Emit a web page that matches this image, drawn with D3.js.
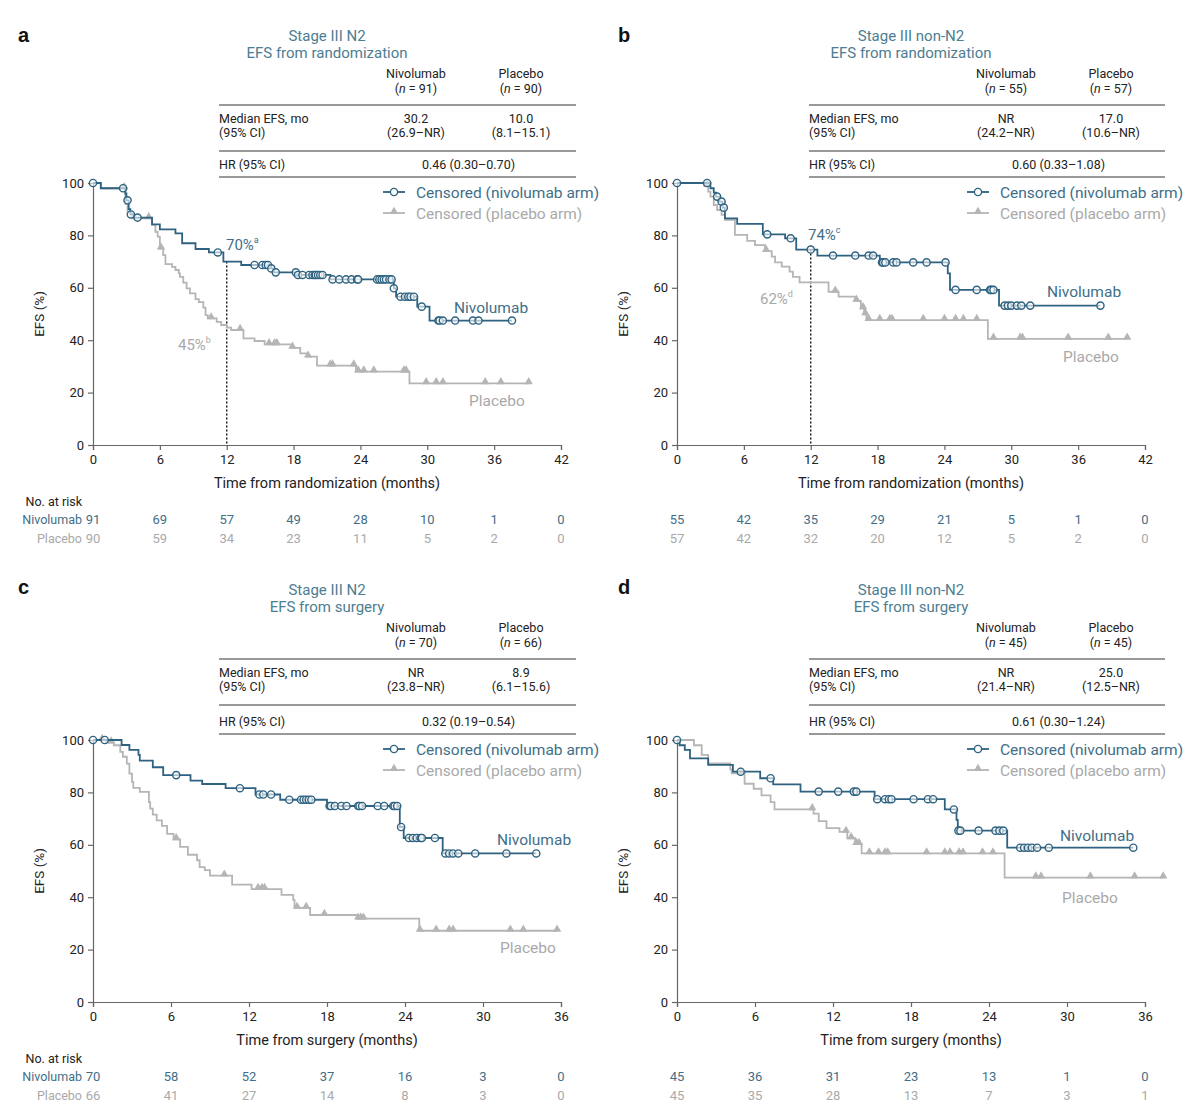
<!DOCTYPE html>
<html>
<head>
<meta charset="utf-8">
<script src="https://cdn.jsdelivr.net/npm/d3@7"></script>
<style>
    body { margin: 0; background: #fff; }
    svg { font-family: Roboto, "Open Sans", sans-serif; }
    .axis path, .axis line { stroke: #666; stroke-width: 1.2; }
    .axis text { font-size: 13px; fill: #222; font-family: Roboto, sans-serif; }
    .tableText { font-size: 12.5px; fill: #222; }
    .tableLine { stroke: #777; stroke-width: 1.3; }
    .title { font-size: 15px; fill: #4d7d90; text-anchor: middle; }
    .axisTitle { font-size: 14.5px; fill: #222; text-anchor: middle; }
    .legendText { font-size: 15.5px; }
    .riskText { font-size: 13px; text-anchor: middle; }
    .panelLetter { font-family: "Liberation Sans", Arial, sans-serif; font-weight: bold; font-size: 20px; fill: #111; }
</style>
</head>
<body>
<script>
//colours of the two arms
var nivoColor = "#2e6280",
    nivoTextColor = "#3f6f88",
    placeboColor = "#b5b5b5",
    placeboTextColor = "#a9a9a9";

//---------------- panel a : stage III N2, EFS from randomization ----------------
var aNivoSteps = [[0,100],[0.7,98],[2.9,96],[3.0,93.4],[3.2,90],[3.35,88],[3.7,86.8],[5.3,84.2],[6.0,82.3],
    [7.4,80.8],[8.0,77],[9.2,74.8],[10.4,73.5],[11.7,70],[13.3,68.7],[15.9,67.4],[16.2,65.9],[18.3,64.9],
    [21.3,63.2],[27.0,59.8],[27.2,56.6],[29.1,52.8],[30.2,47.5]];
var aNivoCensor = [0,2.7,3.1,3.4,4.0,11.2,14.5,15.2,15.5,15.7,16.0,16.4,18.2,18.4,18.8,19.4,19.7,19.9,20.0,
    20.2,20.4,20.6,21.5,22.1,22.7,23.2,23.7,23.8,25.5,25.7,25.9,26.1,26.3,26.6,26.8,27.0,27.6,28.0,28.3,28.5,
    28.8,29.5,31.0,31.1,31.4,32.5,34.1,34.6,37.6];
var aPlaceboSteps = [[0,100],[0.7,98],[2.9,92],[3.1,89],[3.5,86.5],[5.3,84],[5.6,81.4],[5.8,79.5],[6.0,75],
    [6.3,72.5],[6.5,69],[7.1,68],[7.4,66.8],[7.7,65.5],[7.8,64.2],[8.1,62],[8.4,59.8],[8.7,57.9],[9.2,55.7],
    [9.5,54.5],[9.9,52.4],[10.1,49.6],[10.3,48.3],[11.1,47],[11.5,45.8],[12.0,44.8],[12.4,43.9],[13.5,40.7],
    [14.5,39.7],[15.4,38.4],[17.8,37.1],[18.6,35],[19.2,33.7],[20.1,30.3],[23.6,28],[28.4,23.5]];
var aPlaceboCensor = [2.8,5.0,6.1,10.6,13.2,15.8,16.3,16.5,17.9,19.3,21.3,21.5,23.4,23.8,24.3,25.2,27.9,28.1,
    29.9,30.8,31.4,35.2,36.6,39.1];
var aNivoRisk = [91,69,57,49,28,10,1,0];
var aPlaceboRisk = [90,59,34,23,11,5,2,0];
var aTable = ["Stage III N2", "EFS from randomization", "91", "90", "30.2", "(26.9\u2013NR)", "10.0", "(8.1\u201315.1)", "0.46 (0.30\u20130.70)"];

//---------------- panel b : stage III non-N2, EFS from randomization ----------------
var bNivoSteps = [[0,100],[3.0,98],[3.3,96.3],[3.5,94.8],[3.8,92.9],[4.1,90.6],[4.3,86.5],[5.4,84.4],[7.7,80.4],
    [9.7,78.9],[10.7,74.6],[12.6,72.3],[18.2,69.7],[24.3,65.5],[24.5,59.2],[28.9,53.2]];
var bNivoCensor = [0,2.7,3.6,4.0,4.2,8.1,10.2,12.0,14.0,16.0,17.2,17.6,18.4,18.5,18.7,19.4,19.7,21.2,22.4,24.1,
    25.0,26.9,28.1,28.2,28.4,29.4,29.7,30.0,30.5,30.9,31.7,38.0];
var bPlaceboSteps = [[0,100],[2.5,99],[2.8,96.7],[3.0,94.8],[3.3,91.6],[3.6,89.7],[4.0,87.8],[4.3,85.9],[5.2,80.2],
    [6.3,77.9],[7.0,76.3],[7.9,74],[8.5,71.9],[8.8,69.7],[9.4,68.1],[10.1,66.2],[10.4,64.2],[11.0,62.1],[13.6,58.5],
    [14.5,56.6],[16.0,55],[16.5,52.2],[16.8,49.9],[17.0,47.7],[27.9,40.5]];
var bPlaceboCensor = [2.7,8.0,14.2,16.1,16.7,16.9,17.2,18.2,19.1,19.3,22.1,24.0,25.0,25.7,26.9,28.4,30.8,31.0,
    35.1,38.7,40.4];
var bNivoRisk = [55,42,35,29,21,5,1,0];
var bPlaceboRisk = [57,42,32,20,12,5,2,0];
var bTable = ["Stage III non-N2", "EFS from randomization", "55", "57", "NR", "(24.2\u2013NR)", "17.0", "(10.6\u2013NR)", "0.60 (0.33\u20131.08)"];

//---------------- panel c : stage III N2, EFS from surgery ----------------
var cNivoSteps = [[0,100],[2.2,98.1],[2.8,96.2],[3.5,94.3],[3.6,92.1],[4.6,89.6],[5.4,86.6],[7.5,84.5],[8.4,83.2],
    [10.2,81.6],[12.5,79.2],[14.4,77.2],[18.0,74.8],[23.6,66.8],[23.9,62.6],[26.9,56.7]];
var cNivoCensor = [0,0.9,6.4,11.3,12.8,13.1,13.7,15.1,16.0,16.2,16.4,16.6,16.8,18.2,18.3,18.6,19.1,19.5,20.4,20.5,
    20.7,21.9,22.4,23.1,23.2,23.4,23.7,24.3,24.6,24.9,25.2,25.3,26.3,27.1,27.4,27.7,28.1,29.4,31.8,34.1];
var cPlaceboSteps = [[0,100],[1.0,99],[1.6,98],[2.1,95.5],[2.3,93.6],[2.6,91],[2.8,87.2],[3.0,84],[3.1,81.7],
    [3.6,80.2],[4.3,76.3],[4.4,73.8],[4.6,71.5],[4.9,69.3],[5.3,67.2],[5.7,64.2],[6.2,62.1],[6.7,59.2],[7.3,56.2],
    [8.0,54.1],[8.2,51.5],[8.6,50.3],[9.0,48.2],[10.7,44.8],[12.2,43.1],[14.5,40.9],[15.4,39],[15.5,35.9],
    [16.7,33.2],[20.3,31.8],[25.1,27.2]];
var cPlaceboCensor = [0.7,1.4,6.4,10.1,12.7,13.0,13.2,15.7,16.4,17.8,20.4,20.6,20.8,25.15,26.4,27.4,27.7,32.1,33.1,35.7];
var cNivoRisk = [70,58,52,37,16,3,0];
var cPlaceboRisk = [66,41,27,14,8,3,0];
var cTable = ["Stage III N2", "EFS from surgery", "70", "66", "NR", "(23.8\u2013NR)", "8.9", "(6.1\u201315.6)", "0.32 (0.19\u20130.54)"];

//---------------- panel d : stage III non-N2, EFS from surgery ----------------
var dNivoSteps = [[0,100],[0.2,98],[0.6,96.2],[1.0,93],[2.4,90.5],[4.3,87.9],[6.4,85.4],[7.4,83.1],[9.5,80.3],
    [15.2,77.4],[20.6,73.5],[21.5,69.5],[21.6,65.4],[25.4,58.9]];
var dNivoCensor = [0,4.9,7.2,10.9,12.4,13.6,13.8,15.4,16.0,16.3,16.5,18.2,19.3,19.7,21.3,21.65,21.8,23.2,24.5,24.8,
    25.1,26.4,26.7,27.0,27.3,27.7,28.6,35.1];
var dPlaceboSteps = [[0,100],[1.3,98],[1.9,94.3],[2.4,91.1],[4.1,88.8],[4.2,87.3],[5.2,83.3],[5.9,81.4],[6.5,78.9],
    [7.2,76.3],[7.5,73.5],[10.5,71.9],[10.9,69],[11.5,66.4],[12.5,64.9],[13.1,62.5],[13.7,60.3],[14.2,56.7],[25.2,47.5]];
var dPlaceboCensor = [4.9,10.4,13.0,13.4,13.8,14.0,14.8,15.5,16.0,16.2,19.2,20.6,21.0,21.7,22.0,23.5,24.3,27.6,28.0,
    31.8,35.2,37.4];
var dNivoRisk = [45,36,31,23,13,1,0];
var dPlaceboRisk = [45,35,28,13,7,3,1];
var dTable = ["Stage III non-N2", "EFS from surgery", "45", "45", "NR", "(21.4\u2013NR)", "25.0", "(12.5\u2013NR)", "0.61 (0.30\u20131.24)"];

(function(){

    //panel layout (positions only, the values live in the arrays above)
    var panels = [
        {letter: "a", left: 93, top: 183, headShift: 0, xMax: 42, xTitle: "Time from randomization (months)", showRiskLabels: true,
         nivoSteps: aNivoSteps, nivoCensor: aNivoCensor, placeboSteps: aPlaceboSteps, placeboCensor: aPlaceboCensor,
         nivoRisk: aNivoRisk, placeboRisk: aPlaceboRisk, table: aTable, tableCols: [219, 416, 521, 576], titleX: 327,
         landmark: {at: 12, nivo: ["70%", "a", 226, 250], placebo: ["45%", "b", 178, 350]},
         nivoLabel: [454, 313], placeboLabel: [469, 406]},
        {letter: "b", left: 677, top: 183, headShift: 0, xMax: 42, xTitle: "Time from randomization (months)", showRiskLabels: false,
         nivoSteps: bNivoSteps, nivoCensor: bNivoCensor, placeboSteps: bPlaceboSteps, placeboCensor: bPlaceboCensor,
         nivoRisk: bNivoRisk, placeboRisk: bPlaceboRisk, table: bTable, tableCols: [809, 1006, 1111, 1165], titleX: 911,
         landmark: {at: 12, nivo: ["74%", "c", 808, 240], placebo: ["62%", "d", 760, 304]},
         nivoLabel: [1047, 297], placeboLabel: [1063, 362]},
        {letter: "c", left: 93, top: 740, headShift: -3, xMax: 36, xTitle: "Time from surgery (months)", showRiskLabels: true,
         nivoSteps: cNivoSteps, nivoCensor: cNivoCensor, placeboSteps: cPlaceboSteps, placeboCensor: cPlaceboCensor,
         nivoRisk: cNivoRisk, placeboRisk: cPlaceboRisk, table: cTable, tableCols: [219, 416, 521, 576], titleX: 327,
         landmark: null, nivoLabel: [497, 845], placeboLabel: [500, 953]},
        {letter: "d", left: 677, top: 740, headShift: -3, xMax: 36, xTitle: "Time from surgery (months)", showRiskLabels: false,
         nivoSteps: dNivoSteps, nivoCensor: dNivoCensor, placeboSteps: dPlaceboSteps, placeboCensor: dPlaceboCensor,
         nivoRisk: dNivoRisk, placeboRisk: dPlaceboRisk, table: dTable, tableCols: [809, 1006, 1111, 1165], titleX: 911,
         landmark: null, nivoLabel: [1060, 841], placeboLabel: [1062, 903]}
    ];

    var plotWidth = 468,
        plotHeight = 262;

    var svg = d3.select("body")
        .append("svg")
        .attr("width", 1200)
        .attr("height", 1113);

    panels.forEach(function(p){
        drawPanel(svg, p);
    });

    //value of a step curve at time t
    function survAt(steps, t){
        var v = steps[0][1];
        for (var i=0; i<steps.length; i++){
            if (steps[i][0] <= t) v = steps[i][1];
        };
        return v;
    }

    function drawPanel(svg, p){
        var g = svg.append("g").attr("class", "panel");

        var x = d3.scaleLinear()
            .domain([0, p.xMax])
            .range([p.left, p.left + plotWidth]);
        var y = d3.scaleLinear()
            .domain([0, 100])
            .range([p.top + plotHeight, p.top]);

        //panel letter
        g.append("text")
            .attr("class", "panelLetter")
            .attr("x", p.left < 600 ? 18 : 618)
            .attr("y", p.top - 141 + p.headShift * 1.6)
            .text(p.letter);

        drawTable(g, p);

        //axes
        var yAxis = d3.axisLeft(y)
            .tickValues([0, 20, 40, 60, 80, 100])
            .tickSize(5)
            .tickPadding(4);
        g.append("g")
            .attr("class", "axis")
            .attr("transform", "translate(" + p.left + ",0)")
            .call(yAxis);

        var xAxis = d3.axisBottom(x)
            .tickValues(d3.range(0, p.xMax + 1, 6))
            .tickSize(5)
            .tickPadding(5);
        g.append("g")
            .attr("class", "axis")
            .attr("transform", "translate(0," + (p.top + plotHeight) + ")")
            .call(xAxis);

        //axis titles
        g.append("text")
            .attr("class", "axisTitle")
            .attr("x", p.left + plotWidth / 2)
            .attr("y", p.top + plotHeight + 43)
            .text(p.xTitle);
        g.append("text")
            .attr("class", "axisTitle")
            .attr("transform", "translate(" + (p.left - 49) + "," + (p.top + plotHeight / 2) + ") rotate(-90)")
            .style("font-size", "13.5px")
            .text("EFS (%)");

        //landmark dotted line at 12 months
        if (p.landmark){
            var lm = p.landmark.at;
            g.append("line")
                .attr("x1", x(lm)).attr("x2", x(lm))
                .attr("y1", y(survAt(p.nivoSteps, lm)))
                .attr("y2", y(0))
                .attr("stroke", "#111")
                .attr("stroke-width", 1.4)
                .attr("stroke-dasharray", "2,2");
            [[p.landmark.nivo, nivoTextColor], [p.landmark.placebo, placeboTextColor]].forEach(function(l){
                var t = g.append("text")
                    .attr("x", l[0][2])
                    .attr("y", l[0][3])
                    .attr("fill", l[1])
                    .style("font-size", "15px")
                    .text(l[0][0]);
                t.append("tspan")
                    .attr("dy", -7)
                    .style("font-size", "9px")
                    .text(l[0][1]);
            });
        }

        //curves, placebo first so nivolumab lies on top
        drawArm(g, x, y, p.placeboSteps, p.placeboCensor, placeboColor, "triangle");
        drawArm(g, x, y, p.nivoSteps, p.nivoCensor, nivoColor, "circle");

        //curve labels
        g.append("text")
            .attr("x", p.nivoLabel[0]).attr("y", p.nivoLabel[1])
            .attr("fill", nivoTextColor)
            .style("font-size", "15.5px")
            .text("Nivolumab");
        g.append("text")
            .attr("x", p.placeboLabel[0]).attr("y", p.placeboLabel[1])
            .attr("fill", placeboTextColor)
            .style("font-size", "15.5px")
            .text("Placebo");

        //legend
        var lx = p.left + 290,
            ly = p.top + 9;
        drawLegendItem(g, lx, ly, nivoColor, nivoTextColor, "circle", "Censored (nivolumab arm)");
        drawLegendItem(g, lx, ly + 21, placeboColor, placeboTextColor, "triangle", "Censored (placebo arm)");

        //numbers at risk
        var riskTicks = d3.range(0, p.xMax + 1, 6);
        var ry = p.top + plotHeight;
        if (p.showRiskLabels){
            g.append("text")
                .attr("x", 82).attr("y", ry + 61)
                .attr("text-anchor", "end")
                .attr("fill", "#222")
                .style("font-size", "12.5px")
                .text("No. at risk");
            g.append("text")
                .attr("x", 82).attr("y", ry + 79)
                .attr("text-anchor", "end")
                .attr("fill", nivoTextColor)
                .style("font-size", "12.5px")
                .text("Nivolumab");
            g.append("text")
                .attr("x", 82).attr("y", ry + 98)
                .attr("text-anchor", "end")
                .attr("fill", placeboTextColor)
                .style("font-size", "12.5px")
                .text("Placebo");
        }
        g.selectAll(".riskNivo")
            .data(p.nivoRisk)
            .enter()
            .append("text")
            .attr("class", "riskText riskNivo")
            .attr("x", function(d, i){ return x(riskTicks[i]); })
            .attr("y", ry + 79)
            .attr("fill", nivoTextColor)
            .text(function(d){ return d; });
        g.selectAll(".riskPlacebo")
            .data(p.placeboRisk)
            .enter()
            .append("text")
            .attr("class", "riskText riskPlacebo")
            .attr("x", function(d, i){ return x(riskTicks[i]); })
            .attr("y", ry + 98)
            .attr("fill", placeboTextColor)
            .text(function(d){ return d; });
    }

    function drawArm(g, x, y, steps, censor, color, shape){
        var end = Math.max(d3.max(censor), steps[steps.length - 1][0]);
        var pts = steps.concat([[end, steps[steps.length - 1][1]]]);

        var line = d3.line()
            .x(function(d){ return x(d[0]); })
            .y(function(d){ return y(d[1]); })
            .curve(d3.curveStepAfter);

        g.append("path")
            .datum(pts)
            .attr("fill", "none")
            .attr("stroke", color)
            .attr("stroke-width", 1.8)
            .attr("d", line);

        var marks = g.selectAll(".mark-" + shape)
            .data(censor)
            .enter();
        if (shape == "circle"){
            marks.append("circle")
                .attr("cx", function(d){ return x(d); })
                .attr("cy", function(d){ return y(survAt(steps, d)); })
                .attr("r", 3.6)
                .attr("fill", "#fff")
                .attr("fill-opacity", 0.6)
                .attr("stroke", color)
                .attr("stroke-width", 1.4);
        } else {
            marks.append("path")
                .attr("d", d3.symbol().type(d3.symbolTriangle).size(30))
                .attr("transform", function(d){
                    return "translate(" + x(d) + "," + (y(survAt(steps, d)) - 1.5) + ")";
                })
                .attr("fill", color);
        }
    }

    function drawLegendItem(g, lx, ly, color, textColor, shape, label){
        g.append("line")
            .attr("x1", lx).attr("x2", lx + 22)
            .attr("y1", ly).attr("y2", ly)
            .attr("stroke", color)
            .attr("stroke-width", 1.8);
        if (shape == "circle"){
            g.append("circle")
                .attr("cx", lx + 11).attr("cy", ly)
                .attr("r", 3.6)
                .attr("fill", "#fff")
                .attr("stroke", color)
                .attr("stroke-width", 1.4);
        } else {
            g.append("path")
                .attr("d", d3.symbol().type(d3.symbolTriangle).size(30))
                .attr("transform", "translate(" + (lx + 11) + "," + (ly - 1.5) + ")")
                .attr("fill", color);
        }
        g.append("text")
            .attr("class", "legendText")
            .attr("x", lx + 33)
            .attr("y", ly + 5.5)
            .attr("fill", textColor)
            .text(label);
    }

    function drawTable(g, p){
        var c = p.tableCols,
            t = p.table,
            top = p.top,
            hs = p.headShift;

        //title
        g.append("text").attr("class", "title").attr("x", p.titleX).attr("y", top - 142 + hs).text(t[0]);
        g.append("text").attr("class", "title").attr("x", p.titleX).attr("y", top - 125 + hs).text(t[1]);

        //column headers
        [["Nivolumab", t[2], c[1]], ["Placebo", t[3], c[2]]].forEach(function(h){
            g.append("text").attr("class", "tableText").attr("x", h[2]).attr("y", top - 105 + hs)
                .attr("text-anchor", "middle").text(h[0]);
            var n = g.append("text").attr("class", "tableText").attr("x", h[2]).attr("y", top - 90 + hs)
                .attr("text-anchor", "middle");
            n.append("tspan").text("(");
            n.append("tspan").style("font-style", "italic").text("n");
            n.append("tspan").text(" = " + h[1] + ")");
        });

        //rules
        [-78, -32, -6].forEach(function(dy){
            g.append("line")
                .attr("class", "tableLine")
                .attr("x1", c[0]).attr("x2", c[3])
                .attr("y1", top + dy + (dy < -20 ? hs : 0)).attr("y2", top + dy + (dy < -20 ? hs : 0));
        });

        //median row
        var my = top - 60 + hs;
        g.append("text").attr("class", "tableText").attr("x", c[0]).attr("y", my).text("Median EFS, mo");
        g.append("text").attr("class", "tableText").attr("x", c[0]).attr("y", my + 14).text("(95% CI)");
        g.append("text").attr("class", "tableText").attr("x", c[1]).attr("y", my).attr("text-anchor", "middle").text(t[4]);
        g.append("text").attr("class", "tableText").attr("x", c[1]).attr("y", my + 14).attr("text-anchor", "middle").text(t[5]);
        g.append("text").attr("class", "tableText").attr("x", c[2]).attr("y", my).attr("text-anchor", "middle").text(t[6]);
        g.append("text").attr("class", "tableText").attr("x", c[2]).attr("y", my + 14).attr("text-anchor", "middle").text(t[7]);

        //hazard ratio row
        g.append("text").attr("class", "tableText").attr("x", c[0]).attr("y", top - 14).text("HR (95% CI)");
        g.append("text").attr("class", "tableText").attr("x", (c[1] + c[2]) / 2).attr("y", top - 14)
            .attr("text-anchor", "middle").text(t[8]);
    }
})();
</script>
</body>
</html>
